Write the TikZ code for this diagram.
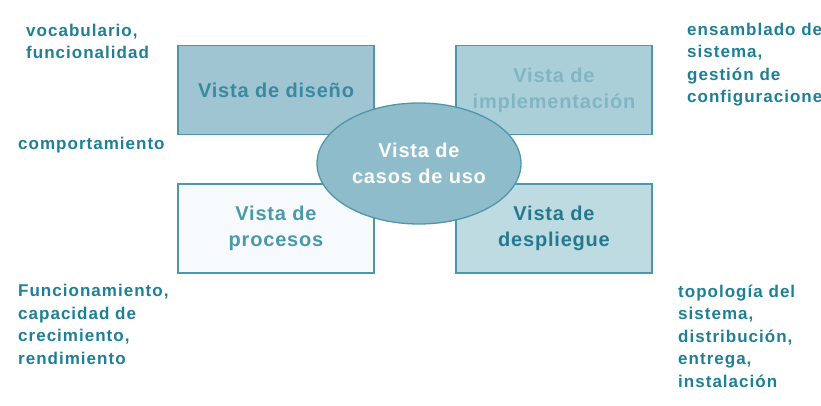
\documentclass[tikz,border=0pt]{standalone}
\usepackage{fontspec}
\setmainfont{Liberation Sans}[LetterSpace=4]
\newfontfamily\notafont{Liberation Sans}[LetterSpace=6]
\usetikzlibrary{shapes.geometric}
\definecolor{borde}{RGB}{78,151,171}
\definecolor{nota}{RGB}{30,127,150}
\definecolor{fondodis}{RGB}{158,197,209}
\definecolor{textodis}{RGB}{58,137,160}
\definecolor{fondoimp}{RGB}{171,207,216}
\definecolor{textoimp}{RGB}{128,181,195}
\definecolor{fondopro}{RGB}{246,250,252}
\definecolor{textopro}{RGB}{74,152,172}
\definecolor{fondodes}{RGB}{190,219,226}
\definecolor{textodes}{RGB}{35,122,144}
\definecolor{fondouso}{RGB}{143,188,202}
\tikzset{
  vista/.style={draw=borde, line width=1.3pt, minimum width=196pt, minimum height=89pt,
    align=center, font=\fontsize{20}{26}\selectfont\bfseries},
  nota/.style={text=nota, inner sep=0pt, align=left, anchor=base west,
    font=\notafont\fontsize{17}{22.5}\selectfont\bfseries}
}
\begin{document}
\begin{tikzpicture}[x=1pt, y=-1pt]
            \useasboundingbox (0,0) rectangle (821,406);
            \coordinate (D) at (276,90);
            \coordinate (I) at (554,90);
            \coordinate (P) at (276,228.5);
            \coordinate (S) at (554,228.5);
            \coordinate (U) at (419,163.5);

            \node[vista, fill=fondodis, text=textodis] (disenio) at (D) {Vista de diseño};
            \node[vista, fill=fondoimp, text=textoimp] (implem) at (I) {Vista de\\implementación};
            \node[vista, fill=fondopro, text=textopro] (procesos) at (P) {Vista de\\procesos};
            \node[vista, fill=fondodes, text=textodes] (despliegue) at (S) {Vista de\\despliegue};
            \node[ellipse, draw=borde, line width=1.3pt, fill=fondouso, text=white,
                  minimum width=204pt, minimum height=121pt, inner sep=0pt, align=center,
                  font=\fontsize{20}{26}\selectfont\bfseries] (casos) at (U) {Vista de\\casos de uso};

            % el ancla base cae en la ultima linea
            \node[nota] (vocab) at (26,59) {vocabulario,\\funcionalidad};
            \node[nota] (comport) at (18,150) {comportamiento};
            \node[nota] (funcion) at (18,364) {Funcionamiento,\\capacidad de\\crecimiento,\\rendimiento};
            \node[nota] (ensamb) at (687,103) {ensamblado del\\sistema,\\gestión de\\configuraciones};
            \node[nota] (topolo) at (678,387) {topología del\\sistema,\\distribución,\\entrega,\\instalación};
        \end{tikzpicture}
\end{document}
